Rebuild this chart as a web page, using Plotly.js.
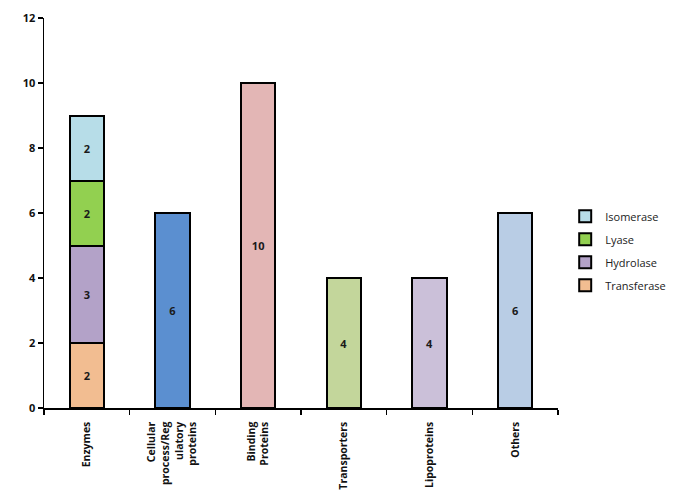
<!DOCTYPE html>
<html>
<head>
<meta charset="utf-8">
<script src="https://cdn.plot.ly/plotly-3.0.1.min.js"></script>
<style>html,body{margin:0;padding:0;background:#fff}#chart{width:683px;height:495px}</style>
</head>
<body>
<div id="chart"></div>
<script>
const categories = ['Enzymes', 'Cellular<br>process/Reg<br>ulatory<br>proteins', 'Binding<br>Proteins', 'Transporters', 'Lipoproteins', 'Others'];
const enzymeSeries = ['Transferase', 'Hydrolase', 'Lyase', 'Isomerase'];
const enzymeValues = [2, 3, 2, 2];
const enzymeColors = ['#f2bd91', '#b3a2c8', '#92d050', '#b7dde8'];
const otherCategories = categories.slice(1);
const otherValues = [6, 10, 4, 4, 6];
const otherColors = ['#5b8fd0', '#e3b6b5', '#c3d69b', '#cbc0d9', '#b9cde5'];

const textFont = {family: 'Open Sans, sans-serif', size: 11, color: '#1a1a1a', weight: 'bold'};
const traces = enzymeSeries.map((name, i) => ({
  type: 'bar', name: name, x: [categories[0]], y: [enzymeValues[i]],
  text: [String(enzymeValues[i])], textposition: 'inside', insidetextanchor: 'middle',
  textfont: textFont, legendgroup: name, legendrank: enzymeSeries.length - i,
  marker: {color: enzymeColors[i], line: {color: '#000', width: 2}},
  hoverinfo: 'none'
}));
traces.push({
  type: 'bar', name: 'Other', x: otherCategories, y: otherValues, showlegend: false,
  text: otherValues.map(String), textposition: 'inside', insidetextanchor: 'middle',
  textfont: textFont,
  marker: {color: otherColors, line: {color: '#000', width: 2}},
  hoverinfo: 'none'
});

const layout = {
  width: 683, height: 495,
  margin: {l: 44, r: 91, t: 18, b: 87},
  barmode: 'stack', bargap: 0.6,
  paper_bgcolor: '#fff', plot_bgcolor: '#fff',
  showlegend: true,
  legend: {x: 1.014, xanchor: 'left', y: 0.403, yanchor: 'middle', traceorder: 'grouped',
           tracegroupgap: 4, itemwidth: 30,
           font: {family: 'Open Sans, sans-serif', size: 11, color: '#222'}},
  xaxis: {
    categoryorder: 'array', categoryarray: categories,
    showline: true, linecolor: '#000', linewidth: 1.5,
    ticks: 'outside', tickson: 'boundaries', ticklen: 5, tickcolor: '#000', tickwidth: 1.5,
    tickangle: -90, ticklabelstandoff: 8,
    tickfont: {family: 'Open Sans, sans-serif', size: 10.5, color: '#111', weight: 'bold'},
    showgrid: false, zeroline: false, fixedrange: true
  },
  yaxis: {
    range: [0, 12], dtick: 2,
    showline: true, linecolor: '#000', linewidth: 1.5,
    ticks: 'outside', ticklen: 5, tickcolor: '#000', tickwidth: 1.5,
    tickfont: {family: 'Open Sans, sans-serif', size: 11, color: '#111', weight: 'bold'},
    showgrid: false, zeroline: false, fixedrange: true
  }
};
Plotly.newPlot('chart', traces, layout, {displayModeBar: false, staticPlot: true});
</script>
</body>
</html>
